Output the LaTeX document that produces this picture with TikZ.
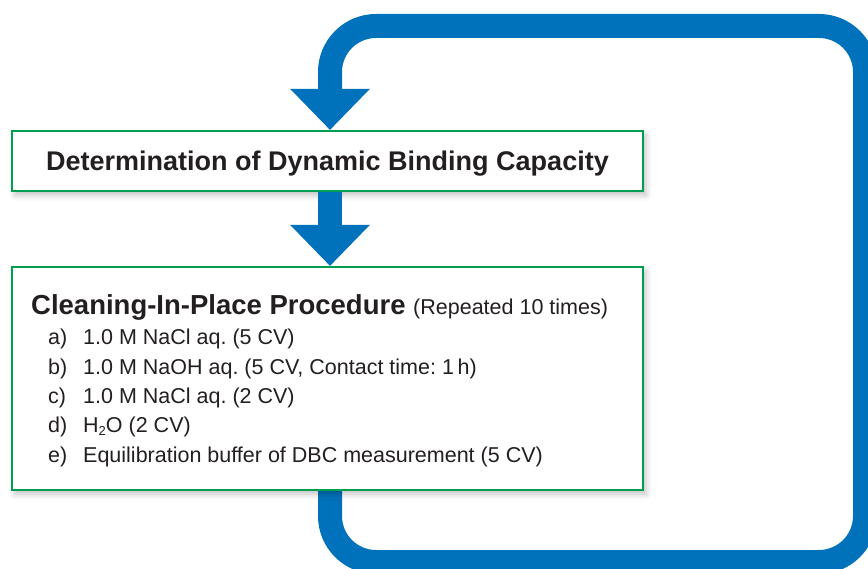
\documentclass[tikz,border=0pt]{standalone}
\usepackage{fontspec}
\setmainfont{Liberation Sans}
\usetikzlibrary{arrows.meta,shadows.blur}
\definecolor{loopblue}{RGB}{0,114,187}
\definecolor{boxgreen}{RGB}{0,158,80}
\definecolor{ink}{RGB}{35,31,32}
\pgfdeclarelayer{bg}
\pgfsetlayers{bg,main}
\frenchspacing
\tikzset{
  flowbox/.style={draw=boxgreen, line width=2pt, fill=white, rectangle, inner sep=0pt,
    blur shadow={shadow xshift=3pt, shadow yshift=-4pt, shadow blur radius=6pt, shadow opacity=25}},
  bigarrow/.style={draw=loopblue, line width=24pt, -{Triangle[width=77pt,length=41pt]}},
  itemtext/.style={anchor=base west, inner sep=0pt, font=\fontsize{21.5}{24}\selectfont},
  titletext/.style={anchor=base west, inner sep=0pt, font=\fontsize{27.5}{30}\selectfont\bfseries}
}
\begin{document}
\begin{tikzpicture}[x=1pt, y=-1pt, text=ink]
\clip (0,0) rectangle (868,569);
\node[flowbox, minimum width=631pt, minimum height=60pt, text height=19.3pt, text depth=0pt,
      font=\fontsize{27}{30}\selectfont\bfseries] (box1) at (327.5,161)
      {Determination of Dynamic Binding Capacity};
\node[flowbox, minimum width=631pt, minimum height=223pt] (box2) at (327.5,378.5) {};
\node[titletext] (title) at (31,315) {Cleaning-In-Place Procedure {\fontsize{21.5}{24}\selectfont\mdseries (Repeated 10 times)}};
\node[itemtext] (la) at (48,345) {a)};
\node[itemtext] (ia) at (83,345) {1.0 M NaCl aq. (5 CV)};
\node[itemtext] (lb) at (48,374) {b)};
\node[itemtext] (ib) at (83,374) {1.0 M NaOH aq. (5 CV, Contact time: 1\,h)};
\node[itemtext] (lc) at (48,403) {c)};
\node[itemtext] (ic) at (83,403) {1.0 M NaCl aq. (2 CV)};
\node[itemtext] (ld) at (48,432) {d)};
\node[itemtext] (id) at (83,432) {H\raisebox{-3pt}{\fontsize{13}{14}\selectfont 2}O (2 CV)};
\node[itemtext] (le) at (48,462) {e)};
\node[itemtext] (ie) at (83,462) {Equilibration buffer of DBC measurement (5 CV)};
\coordinate (ax) at (330,0);
\begin{pgfonlayer}{bg}
\draw[bigarrow, rounded corners=46pt] ([yshift=6pt]box2.south -| ax) -- (330,562) -- (865,562) -- (865,26) -- (330,26) -- (box1.north -| ax);
\end{pgfonlayer}
\draw[bigarrow] (box1.south -| ax) -- (box2.north -| ax);
\end{tikzpicture}
\end{document}
